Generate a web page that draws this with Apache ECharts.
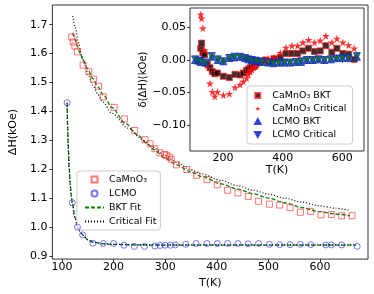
<!DOCTYPE html>
<html>
<head>
<meta charset="utf-8">
<script src="https://cdn.jsdelivr.net/npm/echarts@6/dist/echarts.min.js"></script>
<style>html,body{margin:0;padding:0;background:#fff}#c{width:374px;height:294px}</style>
</head>
<body>
<div id="c"></div>
<script>
// ---- main panel data ----
const caT = [119,122,125,130,141,152,161,171,180,201,221,241,261,271,280,290,299,303,308,312,322,342,361,381,401,421,441,461,481,502,522,542,562,582,602,622,642,662];
const caH = [1.657,1.640,1.626,1.606,1.560,1.537,1.512,1.487,1.450,1.414,1.374,1.334,1.302,1.288,1.271,1.257,1.251,1.248,1.242,1.234,1.215,1.199,1.179,1.164,1.146,1.127,1.118,1.106,1.089,1.079,1.076,1.067,1.051,1.054,1.042,1.043,1.039,1.039];
const lcT = [110,120,130,140,160,180,200,220,240,260,280,290,300,310,320,340,360,381,401,421,441,461,481,502,522,542,562,582,611,622,642,672];
const lcH = [1.430,1.084,1.000,0.973,0.944,0.943,0.943,0.937,0.933,0.933,0.934,0.936,0.937,0.937,0.938,0.940,0.943,0.943,0.943,0.943,0.943,0.942,0.943,0.940,0.939,0.939,0.940,0.939,0.938,0.938,0.938,0.933];
const caBktFitT = [121,125,130,135,141,150,160,170,180,197,222,247,266,278,300,322,347,370,409,440,471,500,533,565,596,630,658];
const caBktFitH = [1.672,1.650,1.624,1.602,1.578,1.546,1.513,1.484,1.457,1.413,1.360,1.318,1.287,1.268,1.238,1.215,1.193,1.175,1.149,1.131,1.115,1.100,1.083,1.067,1.054,1.045,1.039];
const caCritFitT = [121,126,132,138,144,152,160,170,179,197,228,259,272,300,322,347,370,409,440,471,500,533,565,596,630,658];
const caCritFitH = [1.730,1.690,1.637,1.595,1.560,1.522,1.490,1.458,1.433,1.393,1.342,1.299,1.280,1.248,1.224,1.200,1.184,1.161,1.143,1.127,1.114,1.099,1.086,1.074,1.065,1.057];
const lcFitT = [110,111,112,114,116,118,120,125,130,135,140,150,160,180,200,250,300,400,500,600,670];
const lcBktFitH = [1.430,1.350,1.290,1.205,1.150,1.110,1.085,1.035,1.005,0.986,0.972,0.956,0.948,0.942,0.940,0.938,0.937,0.937,0.937,0.937,0.937];
const lcCritFitH = [1.430,1.340,1.280,1.200,1.145,1.107,1.082,1.033,1.004,0.985,0.972,0.956,0.948,0.942,0.940,0.938,0.938,0.938,0.938,0.938,0.938];
const mainXTicks = [100,200,300,400,500,600];
const mainYTicks = [0.9,1.0,1.1,1.2,1.3,1.4,1.5,1.6,1.7];

// ---- inset data (residuals) ----
const insCaT = [125,128,132,138,147,156,164,172,181,201,221,240,257,268,279,285,291,296,302,307,313,324,341,352,371,392,411,431,450,468,487,507,526,545,565,582,602,621,640];
const insCaBkt = [0.018,0.026,0.011,0.008,-0.006,-0.012,-0.018,-0.021,-0.020,-0.025,-0.027,-0.022,-0.023,-0.020,-0.016,-0.014,-0.012,-0.011,-0.010,-0.009,-0.005,-0.003,0.000,-0.002,0.002,0.004,0.010,0.010,0.010,0.014,0.018,0.013,0.014,0.022,0.012,0.018,0.010,0.009,0.001];
const insCaCrit = [0.070,0.064,0.049,0.015,-0.008,-0.036,-0.049,-0.056,-0.049,-0.054,-0.052,-0.042,-0.038,-0.033,-0.028,-0.022,-0.018,-0.015,-0.012,-0.009,-0.006,-0.003,0.000,0.002,0.004,0.011,0.019,0.022,0.022,0.027,0.031,0.027,0.030,0.037,0.027,0.033,0.027,0.023,0.018];
const insLcT = [106,117,125,140,162,182,201,221,238,257,274,285,296,308,315,330,352,369,388,406,425,445,462,481,501,520,540,562,582,601,621,649];
const insLcBkt = [0.000,-0.001,-0.003,-0.004,0.005,0.000,-0.002,0.003,0.004,0.005,0.003,0.001,0.000,-0.001,-0.001,-0.003,-0.004,-0.005,-0.004,-0.004,-0.004,-0.003,-0.003,0.000,0.000,0.001,0.000,0.001,0.003,0.003,0.003,0.005];
const insLcCrit = [0.001,-0.001,-0.002,-0.004,0.006,0.001,-0.002,0.003,0.005,0.005,0.003,0.001,0.000,-0.001,-0.002,-0.003,-0.004,-0.005,-0.004,-0.004,-0.004,-0.003,-0.002,0.000,0.000,0.001,0.000,0.001,0.002,0.003,0.003,0.006];
const insXTicks = [200,400,600];
const insYTicks = [-0.10,-0.05,0.00,0.05];

const zip = (a,b) => a.map((v,i)=>[v,b[i]]);
const FONT = 'DejaVu Sans';
const SQUARE = 'path://M0,0 L100,0 L100,100 L0,100 Z';
const STAR = 'path://M50,0 L61,35 L98,35 L68,57 L79,91 L50,70 L21,91 L32,57 L2,35 L39,35 Z';
const TRI_DOWN = 'path://M0,0 L100,0 L50,90 Z';
const TRI_UP = 'path://M50,0 L100,90 L0,90 Z';
const AX = '#333';

function valAxis(grid, min, max, ticks, extra){
  return Object.assign({
    type:'value', gridIndex:grid, min:min, max:max,
    axisLine:{show:false},
    axisTick:{show:true, customValues:ticks, length:3, lineStyle:{color:AX, width:1}},
    splitLine:{show:false},
    nameTextStyle:{color:'#000', fontSize:11, fontFamily:FONT}
  }, extra);
}
const lbl = (ticks, fmt, margin) => ({customValues:ticks, formatter:fmt, color:'#000', fontSize:11, fontFamily:FONT, margin:margin});
const fmtInsY = v => (v<0?'−':'') + Math.abs(v).toFixed(2);

const chart = echarts.init(document.getElementById('c'), null, {renderer:'canvas'});
chart.setOption({
  animation:false,
  backgroundColor:'#fff',
  textStyle:{fontFamily:FONT},
  grid:[
    {left:38, top:5, right:6, bottom:31, show:true, borderColor:AX, borderWidth:1},
    {left:190, top:8, right:10, bottom:143, show:true, backgroundColor:'#fff', borderColor:AX, borderWidth:1}
  ],
  xAxis:[
    valAxis(0, 81.5, 693, mainXTicks, {name:'T(K)', nameLocation:'middle', nameGap:14, axisLabel:lbl(mainXTicks, v=>String(v), 3)}),
    valAxis(1, 89, 673, insXTicks, {name:'T(K)', nameLocation:'middle', nameGap:13, axisLabel:lbl(insXTicks, v=>String(v), 2)})
  ],
  yAxis:[
    valAxis(0, 0.889, 1.768, mainYTicks, {name:'ΔH(kOe)', nameLocation:'middle', nameGap:27, axisLabel:lbl(mainYTicks, v=>v.toFixed(1), 5)}),
    valAxis(1, -0.140, 0.080, insYTicks, {name:'δ(ΔH)(kOe)', nameLocation:'middle', nameGap:40, nameTextStyle:{color:'#000', fontSize:10, fontFamily:FONT}, axisLabel:lbl(insYTicks, fmtInsY, 4)})
  ],
  legend:[
    {
      data:[{name:'CaMnO₃'},{name:'LCMO'},{name:'BKT Fit', itemStyle:{opacity:0}},{name:'Critical Fit', itemStyle:{opacity:0}}],
      orient:'vertical', left:77, top:171, itemWidth:19, itemHeight:6, itemGap:3,
      padding:[3,4,3,7], backgroundColor:'rgba(255,255,255,0.8)', borderColor:'#ccc', borderWidth:1, borderRadius:3,
      textStyle:{fontSize:9.5, fontFamily:FONT, color:'#000', lineHeight:11}
    },
    {
      data:['CaMnO₃ BKT','CaMnO₃ Critical','LCMO BKT','LCMO Critical'],
      orient:'vertical', left:247, top:86, itemWidth:19, itemHeight:5, itemGap:2,
      padding:[4,6,4,7], backgroundColor:'rgba(255,255,255,0.8)', borderColor:'#ccc', borderWidth:1, borderRadius:3,
      textStyle:{fontSize:9.5, fontFamily:FONT, color:'#000', lineHeight:11}
    }
  ],
  series:[
    {name:'BKT Fit', type:'line', xAxisIndex:0, yAxisIndex:0, data:zip(caBktFitT,caBktFitH), showSymbol:false, symbol:'none', smooth:0.3, smoothMonotone:'x', lineStyle:{color:'#008000', width:1.3, type:[4,2]}, itemStyle:{color:'#008000'}, z:3},
    {name:'Critical Fit', type:'line', xAxisIndex:0, yAxisIndex:0, data:zip(caCritFitT,caCritFitH), showSymbol:false, symbol:'none', smooth:0.3, smoothMonotone:'x', lineStyle:{color:'#000', width:1.2, type:[1,2]}, itemStyle:{color:'#000'}, z:3},
    {name:'BKT Fit', type:'line', xAxisIndex:0, yAxisIndex:0, data:zip(lcFitT,lcBktFitH), showSymbol:false, symbol:'none', smooth:0.3, smoothMonotone:'x', lineStyle:{color:'#008000', width:1.3, type:[4,2]}, itemStyle:{color:'#008000'}, z:3},
    {name:'Critical Fit', type:'line', xAxisIndex:0, yAxisIndex:0, data:zip(lcFitT,lcCritFitH), showSymbol:false, symbol:'none', smooth:0.3, smoothMonotone:'x', lineStyle:{color:'#000', width:1.2, type:[1,2]}, itemStyle:{color:'#000'}, z:3},
    {name:'CaMnO₃', type:'scatter', xAxisIndex:0, yAxisIndex:0, data:zip(caT,caH), symbol:SQUARE, symbolSize:6, itemStyle:{color:'rgba(0,0,0,0)', borderColor:'rgba(255,40,40,0.8)', borderWidth:1}, z:4},
    {name:'LCMO', type:'scatter', xAxisIndex:0, yAxisIndex:0, data:zip(lcT,lcH), symbol:'circle', symbolSize:6, itemStyle:{color:'rgba(0,0,0,0)', borderColor:'rgba(40,40,255,0.8)', borderWidth:1}, z:4},

    {name:'CaMnO₃ BKT', type:'scatter', xAxisIndex:1, yAxisIndex:1, data:zip(insCaT,insCaBkt), symbol:SQUARE, symbolSize:6, itemStyle:{color:'#000', borderColor:'#ff2020', borderWidth:1}, z:5},
    {name:'CaMnO₃ Critical', type:'scatter', xAxisIndex:1, yAxisIndex:1, data:zip(insCaT,insCaCrit), symbol:STAR, symbolSize:8, itemStyle:{color:'#ff0000'}, z:5},
    {name:'LCMO BKT', type:'scatter', xAxisIndex:1, yAxisIndex:1, data:zip(insLcT,insLcBkt), symbol:TRI_UP, symbolSize:7, itemStyle:{color:'#007a00', borderColor:'#1a1aff', borderWidth:1}, z:5},
    {name:'LCMO Critical', type:'scatter', xAxisIndex:1, yAxisIndex:1, data:zip(insLcT,insLcCrit), symbol:TRI_DOWN, symbolSize:7, itemStyle:{color:'#007a00', borderColor:'#1a1aff', borderWidth:1}, z:5}
  ]
});
</script>
</body>
</html>
